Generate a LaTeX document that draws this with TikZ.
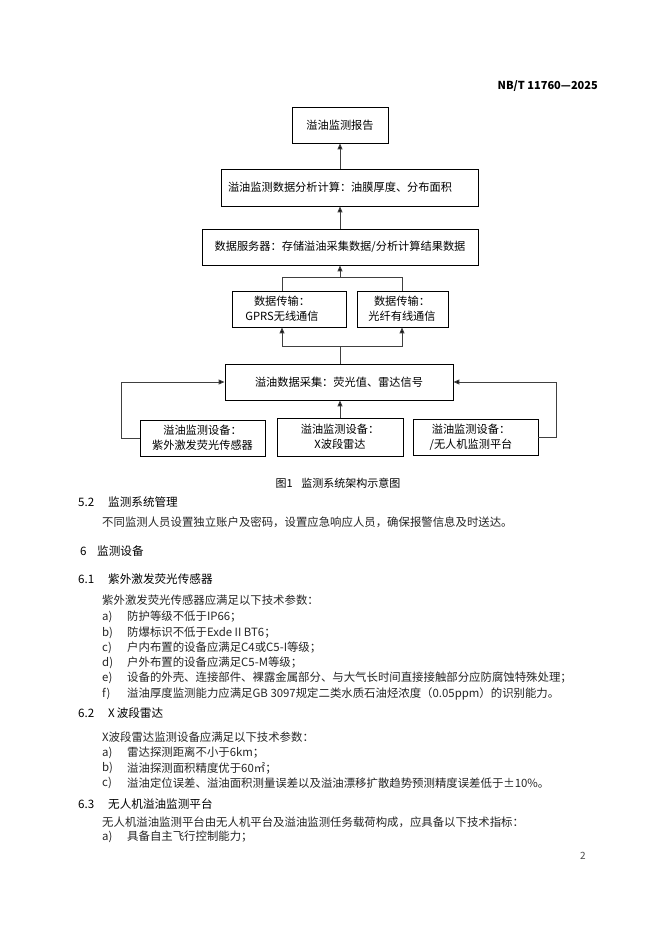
\documentclass[tikz,border=0pt]{standalone}
\usepackage{fontspec}
\setmainfont{Noto Sans CJK SC}
\usetikzlibrary{arrows.meta}
\newcommand{\dfont}{\fontsize{11.2}{15}\selectfont}
\newcommand{\bfont}{\fontsize{11.4}{15}\selectfont}
\newcommand{\hfont}{\fontsize{11.6}{15}\selectfont}
\begin{document}
\begin{tikzpicture}[x=1pt,y=-1pt,
  box/.style={draw=black, line width=0.9pt, minimum height=36pt, inner sep=0pt, font=\dfont, align=center},
  lbl/.style={inner sep=0pt, font=\dfont, align=center},
  conn/.style={draw=black!75, line width=1pt},
  arr/.style={conn, -{Triangle[length=6pt,width=5pt,fill=black]}},
  body/.style={anchor=west, inner sep=0pt, font=\bfont, text=black!85},
  head/.style={anchor=west, inner sep=0pt, font=\hfont, text=black}]
\useasboundingbox (0,0) rectangle (662,936);
\fill[white] (0,0) rectangle (662,936);

% header
\node[anchor=east, inner sep=0pt, font=\fontsize{11}{13}\selectfont\bfseries] (hdr) at (598,86) {NB/T 11760—2025};

% diagram boxes
\node[box, minimum width=96pt] (rep) at (340,125) {溢油监测报告};
\node[box, minimum width=257pt, minimum height=37pt] (an) at (349.5,187.5) {};
\node[lbl] (ant) at (340,187.5) {溢油监测数据分析计算：油膜厚度、分布面积};
\node[box, minimum width=276pt] (srv) at (340,247) {数据服务器：存储溢油采集数据/分析计算结果数据};
\node[box, minimum width=114pt] (t1) at (289,309) {};
\node[lbl] (t1t) at (282,309) {数据传输：\\GPRS无线通信};
\node[box, minimum width=91pt] (t2) at (402.5,309) {};
\node[lbl] (t2t) at (402,309) {数据传输：\\光纤有线通信};
\node[box, minimum width=228pt] (coll) at (339,382) {溢油数据采集：荧光值、雷达信号};
\node[box, minimum width=125pt] (d1) at (202.5,438) {溢油监测设备：\\紫外激发荧光传感器};
\node[box, minimum width=126pt, minimum height=38pt] (d2) at (340,437) {溢油监测设备：\\X波段雷达};
\node[box, minimum width=125pt] (d3) at (475.5,437) {};
\node[lbl] (d3t) at (471,437) {溢油监测设备：\\/无人机监测平台};

% connectors
\coordinate (jb) at (340,346);
\coordinate (ju) at (340,277);
\draw[arr] (rep.south |- an.north) -- (rep.south);
\draw[arr] (srv.north) -- (srv.north |- an.south);
\draw[conn] (t1.north -| t1t) |- (ju);
\draw[conn] (t2.north -| t2t) |- (ju);
\draw[arr] (ju) -- (srv.south -| ju);
\draw[conn] (coll.north -| jb) -- (jb);
\draw[arr] (jb) -| (t1.south -| t1t);
\draw[arr] (jb) -| (t2.south -| t2t);
\draw[arr] (d1.west) -- ++(-18,0) |- (coll.west);
\draw[arr] (d3.east) -- ++(18,0) |- (coll.east);
\draw[arr] (d2.north) -- (d2.north |- coll.south);

% caption
\node[inner sep=0pt, font=\fontsize{11}{13}\selectfont] (cap) at (338,483) {图1\hspace{0.8em}监测系统架构示意图};

% text
\node[head] (h52n) at (78,502) {5.2};
\node[head] (h52) at (108,502) {监测系统管理};
\node[body] (p52) at (102,522) {不同监测人员设置独立账户及密码，设置应急响应人员，确保报警信息及时送达。};
\node[head] (h6n) at (80,551) {6};
\node[head] (h6) at (97,551) {监测设备};
\node[head] (h61n) at (78,579) {6.1};
\node[head] (h61) at (108,579) {紫外激发荧光传感器};
\node[body] (p61) at (102,600) {紫外激发荧光传感器应满足以下技术参数：};
\node[body] (l61a) at (102,617) {a)};
\node[body] (t61a) at (127,617) {防护等级不低于IP66；};
\node[body] (l61b) at (102,633) {b)};
\node[body] (t61b) at (127,633) {防爆标识不低于Exde II BT6；};
\node[body] (l61c) at (102,648) {c)};
\node[body] (t61c) at (127,648) {户内布置的设备应满足C4或C5-I等级；};
\node[body] (l61d) at (102,663) {d)};
\node[body] (t61d) at (127,663) {户外布置的设备应满足C5-M等级；};
\node[body] (l61e) at (102,678) {e)};
\node[body] (t61e) at (127,678) {设备的外壳、连接部件、裸露金属部分、与大气长时间直接接触部分应防腐蚀特殊处理；};
\node[body] (l61f) at (102,694) {f)};
\node[body] (t61f) at (127,694) {溢油厚度监测能力应满足GB 3097规定二类水质石油烃浓度（0.05ppm）的识别能力。};
\node[head] (h62n) at (78,713) {6.2};
\node[head] (h62) at (108,713) {X\,波段雷达};
\node[body] (p62) at (102,737) {X波段雷达监测设备应满足以下技术参数：};
\node[body] (l62a) at (102,753) {a)};
\node[body] (t62a) at (127,753) {雷达探测距离不小于6km；};
\node[body] (l62b) at (102,768) {b)};
\node[body] (t62b) at (127,768) {溢油探测面积精度优于60㎡；};
\node[body] (l62c) at (102,783) {c)};
\node[body] (t62c) at (127,783) {溢油定位误差、溢油面积测量误差以及溢油漂移扩散趋势预测精度误差低于±10\%。};
\node[head] (h63n) at (78,804) {6.3};
\node[head] (h63) at (108,804) {无人机溢油监测平台};
\node[body] (p63) at (102,822) {无人机溢油监测平台由无人机平台及溢油监测任务载荷构成，应具备以下技术指标：};
\node[body] (l63a) at (102,837) {a)};
\node[body] (t63a) at (127,837) {具备自主飞行控制能力；};

% page number
\node[inner sep=0pt, font=\fontsize{10}{12}\selectfont, text=black!70] (pg) at (583,856) {2};
\end{tikzpicture}
\end{document}
